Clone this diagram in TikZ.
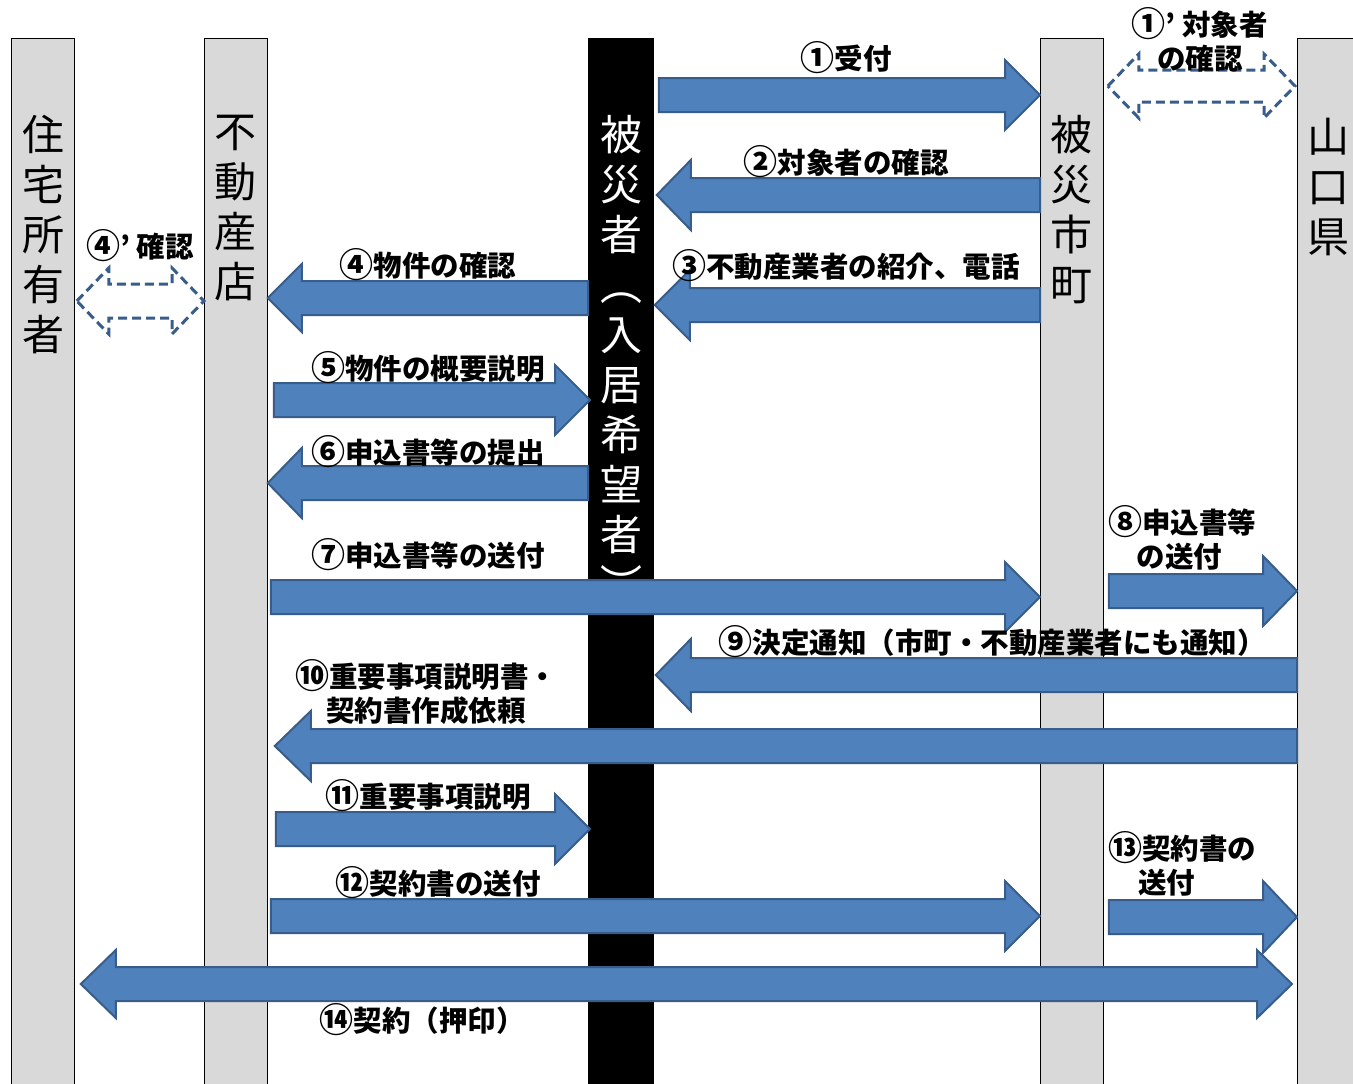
\documentclass[tikz,border=0pt]{standalone}
\usepackage{fontspec}
\setmainfont{Noto Sans CJK JP}
\usetikzlibrary{calc}
\definecolor{afill}{HTML}{4F81BD}
\definecolor{aline}{HTML}{385D8A}
\definecolor{bargray}{HTML}{D9D9D9}
\tikzset{
 lane/.style={draw=black, line width=0.8pt, fill=bargray, minimum width=63pt, minimum height=1060pt, anchor=north west, inner sep=0pt},
 vtext/.style={font=\fontsize{42}{50}\selectfont, align=center, anchor=north, inner sep=0pt},
 lbl/.style={font=\fontsize{28.5}{34}\selectfont\bfseries, inner sep=0pt},
 blk/.style={fill=afill, draw=aline, line width=2pt, line join=miter},
 dsh/.style={draw=aline, line width=3pt, dash pattern=on 9pt off 5pt, fill=white},
}
\newcommand\cnum[1]{\raisebox{-1.5pt}{\fontsize{34}{34}\selectfont #1}}
% right block arrow: from, tip, y, head length, head half, shaft half
\newcommand\ArrR[7]{\path[#1] let \p1=(#2), \p2=(#3) in
 (\x1,-#4pt+#7pt) -- (\x2-#5pt,-#4pt+#7pt) -- (\x2-#5pt,-#4pt+#6pt) -- (\x2,-#4pt)
 -- (\x2-#5pt,-#4pt-#6pt) -- (\x2-#5pt,-#4pt-#7pt) -- (\x1,-#4pt-#7pt) -- cycle;}
\newcommand\ArrL[7]{\path[#1] let \p1=(#2), \p2=(#3) in
 (\x1,-#4pt+#7pt) -- (\x2+#5pt,-#4pt+#7pt) -- (\x2+#5pt,-#4pt+#6pt) -- (\x2,-#4pt)
 -- (\x2+#5pt,-#4pt-#6pt) -- (\x2+#5pt,-#4pt-#7pt) -- (\x1,-#4pt-#7pt) -- cycle;}
% double arrow: left tip, right tip
\newcommand\ArrD[7]{\path[#1] let \p1=(#2), \p2=(#3) in
 (\x1,-#4pt) -- (\x1+#5pt,-#4pt+#6pt) -- (\x1+#5pt,-#4pt+#7pt) -- (\x2-#5pt,-#4pt+#7pt)
 -- (\x2-#5pt,-#4pt+#6pt) -- (\x2,-#4pt) -- (\x2-#5pt,-#4pt-#6pt) -- (\x2-#5pt,-#4pt-#7pt)
 -- (\x1+#5pt,-#4pt-#7pt) -- (\x1+#5pt,-#4pt-#6pt) -- cycle;}
\begin{document}
\begin{tikzpicture}[x=1pt,y=-1pt]
\useasboundingbox (0,0) rectangle (1353,1084);
\clip (0,0) rectangle (1353,1084);
\fill[white] (0,0) rectangle (1353,1084);
% lanes
\node[lane] (owner) at (11,38) {};
\node[lane] (fudo) at (204,38) {};
\node[lane, fill=black, draw=none, minimum width=66pt] (victim) at (588,38) {};
\node[lane] (mun) at (1040,38) {};
\node[lane, minimum width=70pt] (yama) at (1297,38) {};
% lane titles
\node[vtext] (ownerT) at (43,115) {住\\宅\\所\\有\\者};
\node[vtext] (fudoT) at (235.5,115) {不\\動\\産\\店};
\node[vtext, text=white] (victimT) at (621,115) {被\\災\\者\\︵\\入\\居\\希\\望\\者\\︶};
\node[vtext] (munT) at (1071.5,115) {被\\災\\市\\町};
\node[vtext] (yamaT) at (1328,118) {山\\口\\県};
% block arrows
\ArrR{blk}{[xshift=4pt]victim.east}{mun.west}{95}{35}{35}{17}
\ArrL{blk}{mun.west}{[xshift=2pt]victim.east}{195}{34}{35}{17}
\ArrL{blk}{mun.west}{victim.east}{305}{35}{35}{17}
\ArrL{blk}{victim.west}{fudo.east}{298}{34}{34}{17}
\ArrR{blk}{[xshift=6pt]fudo.east}{[xshift=2pt]victim.west}{400}{35}{35}{17}
\ArrL{blk}{victim.west}{fudo.east}{483}{34}{35}{17}
\ArrR{blk}{[xshift=3pt]fudo.east}{mun.west}{597}{35}{35}{17}
\ArrR{blk}{[xshift=5pt]mun.east}{yama.west}{591}{34}{35}{17}
\ArrL{blk}{yama.west}{[xshift=1pt]victim.east}{675}{35}{36}{17}
\ArrL{blk}{yama.west}{[xshift=7pt]fudo.east}{746}{36}{35}{17}
\ArrR{blk}{[xshift=8pt]fudo.east}{[xshift=2pt]victim.west}{829}{35}{35}{17}
\ArrR{blk}{[xshift=3pt]fudo.east}{mun.west}{916}{35}{35}{17}
\ArrR{blk}{[xshift=5pt]mun.east}{yama.west}{917}{34}{36}{17}
\ArrD{blk}{[xshift=6pt]owner.east}{[xshift=-5pt]yama.west}{984}{35}{34}{17}
% dashed double arrows
\ArrD{dsh}{[xshift=4pt]mun.east}{[xshift=-2pt]yama.west}{86}{31}{32}{16}
\ArrD{dsh}{[xshift=2pt]owner.east}{fudo.west}{301}{32}{33}{17}
% labels
\node[lbl] (l1) at (846,58) {\cnum{①}受付};
\node[lbl] (l2) at (846,162) {\cnum{②}対象者の確認};
\node[lbl] (l3) at (846,266) {\cnum{③}不動産業者の紹介、電話};
\node[lbl] (l4) at (428,265) {\cnum{④}物件の確認};
\node[lbl] (l5) at (428,368) {\cnum{⑤}物件の概要説明};
\node[lbl] (l6) at (428,452) {\cnum{⑥}申込書等の提出};
\node[lbl] (l7) at (428,555) {\cnum{⑦}申込書等の送付};
\node[lbl, align=left, anchor=west] (l8) at (1108,538) {\cnum{⑧}申込書等\\\hspace*{1em}の送付};
\node[lbl] (l9) at (992,642) {\cnum{⑨}決定通知（市町・不動産業者にも通知）};
\node[lbl, align=center] (l10) at (426,692) {\cnum{⑩}重要事項説明書・\\契約書作成依頼};
\node[lbl] (l11) at (428,796) {\cnum{⑪}重要事項説明};
\node[lbl] (l12) at (438,883) {\cnum{⑫}契約書の送付};
\node[lbl, align=left, anchor=west] (l13) at (1108,864) {\cnum{⑬}契約書の\\\hspace*{1.05em}送付};
\node[lbl] (l14) at (422,1020) {\cnum{⑭}契約（押印）};
\node[lbl, align=center] (l1p) at (1200,40) {\cnum{①}’ 対象者\\の確認};
\node[lbl] (l4p) at (140,246) {\cnum{④}’ 確認};
\end{tikzpicture}
\end{document}
